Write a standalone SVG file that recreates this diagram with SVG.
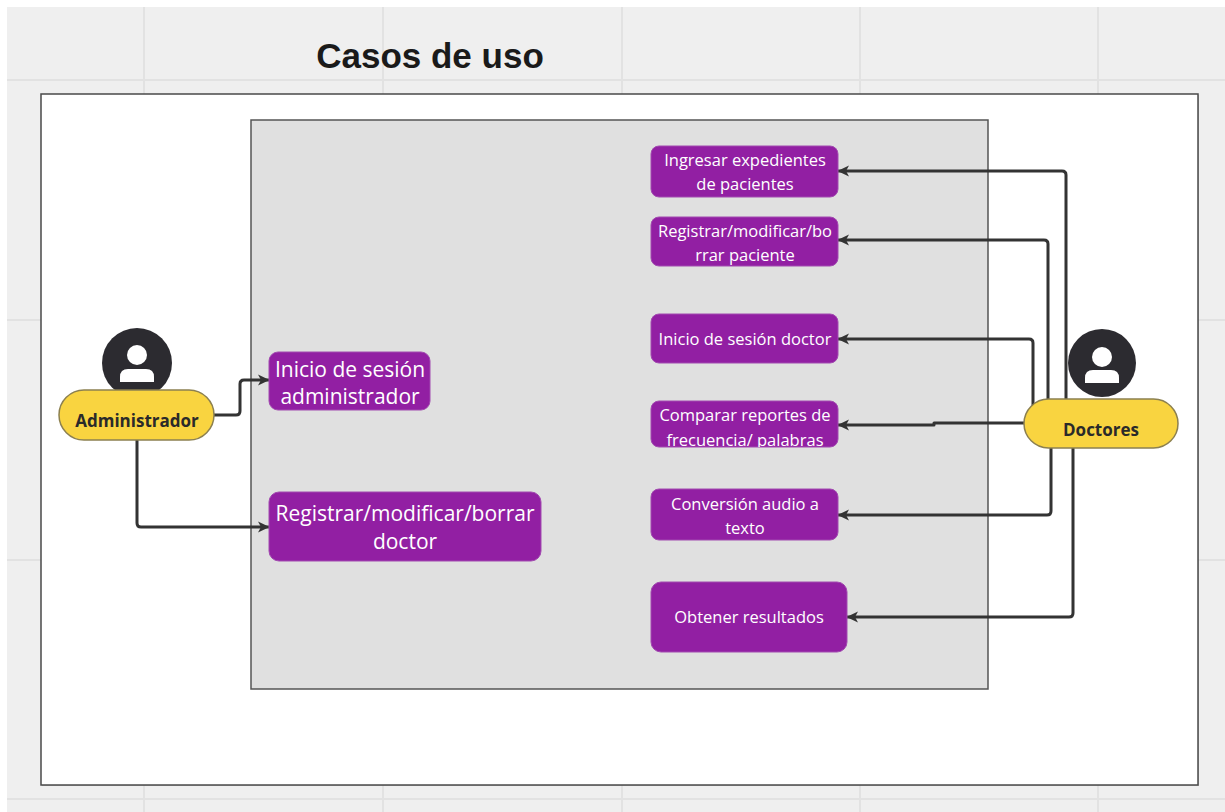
<svg xmlns="http://www.w3.org/2000/svg" width="1225" height="812" viewBox="0 0 1225 812">
<defs>
<style>
.grid{stroke:#e2e2e2;stroke-width:2;fill:none}
.uc{fill:#921fa3;stroke:#a24ab0;stroke-width:1}
.ut{font-family:"Open Sans","Noto Sans",sans-serif;fill:#ffffff;text-anchor:middle}
.s15{font-size:16.5px}
.s20{font-size:21px}
.con{fill:none;stroke:#333333;stroke-width:3;stroke-linejoin:round;marker-end:url(#arr)}
.pill{fill:#f9d440;stroke:#8c8050;stroke-width:1.5}
.pt{font-family:"Open Sans","Noto Sans",sans-serif;font-weight:700;font-size:17px;fill:#2a2a2a;text-anchor:middle}
.ic{fill:#2c2b30}
</style>
<marker id="arr" viewBox="0 0 12 12" refX="11" refY="6" markerWidth="12" markerHeight="12" markerUnits="userSpaceOnUse" orient="auto">
<path d="M0,0.5 L11.5,6 L0,11.5 L3,6 Z" fill="#333333"/>
</marker>
<clipPath id="clipComp"><rect x="651" y="401" width="187" height="46" rx="8"/></clipPath>
</defs>
<rect x="0" y="0" width="1225" height="812" fill="#ffffff"/>
<rect x="7" y="7" width="1218" height="805" fill="#efefef"/>
<g id="grid">
<path class="grid" d="M144,7V812M383,7V812M622,7V812M860,7V812M1098,7V812M7,80H1225M7,320H1225M7,560H1225M7,799H1225"/>
</g>
<text x="430" y="68" font-family="'Liberation Sans',Arial,sans-serif" font-weight="700" font-size="35" fill="#1a1a1a" text-anchor="middle">Casos de uso</text>
<g id="frame">
<rect x="42" y="95" width="1157" height="691" fill="#9a9a9a" opacity="0.5"/>
<rect x="41" y="94" width="1157" height="691" fill="#ffffff" stroke="#4a4a4a" stroke-width="1.5"/>
</g>
<g id="system">
<rect x="251" y="120" width="737" height="569" fill="#e0e0e0" stroke="#555555" stroke-width="1.5"/>
</g>
<g id="connectors">
<path class="con" d="M214,415 H236 Q240,415 240,411 V384 Q240,380 244,380 H269"/>
<path class="con" d="M137,440 V523 Q137,527 141,527 H269"/>
<path class="con" d="M1066,420 V175 Q1066,171 1062,171 H838"/>
<path class="con" d="M1048,420 V244 Q1048,240 1044,240 H838"/>
<path class="con" d="M1033,420 V343 Q1033,339 1029,339 H838"/>
<path class="con" d="M1030,423 H934 V425 H838"/>
<path class="con" d="M1051,440 V511 Q1051,515 1047,515 H838"/>
<path class="con" d="M1073,440 V613 Q1073,617 1069,617 H847"/>
</g>
<g id="administrador">
<circle class="ic" cx="137" cy="363" r="35"/>
<circle cx="137" cy="355" r="10" fill="#ffffff"/>
<path d="M120,382 V377 Q120,369 128,369 H146 Q154,369 154,377 V382 Z" fill="#ffffff"/>
<rect class="pill" x="59" y="390" width="155" height="50" rx="25"/>
<text class="pt" x="137" y="427">Administrador</text>
</g>
<g id="doctores">
<circle class="ic" cx="1102" cy="363" r="34"/>
<circle cx="1102" cy="357" r="10" fill="#ffffff"/>
<path d="M1085,383 V378 Q1085,370 1093,370 H1111 Q1119,370 1119,378 V383 Z" fill="#ffffff"/>
<rect class="pill" x="1024" y="399" width="154" height="49" rx="24.5"/>
<text class="pt" x="1101" y="436">Doctores</text>
</g>
<g id="uc-inicio-admin">
<rect class="uc" x="269" y="352" width="161" height="58" rx="9"/>
<text class="ut s20" x="350" y="377">Inicio de sesión</text>
<text class="ut s20" x="350" y="404">administrador</text>
</g>
<g id="uc-registrar-doctor">
<rect class="uc" x="269" y="492" width="272" height="69" rx="10"/>
<text class="ut s20" x="405" y="521">Registrar/modificar/borrar</text>
<text class="ut s20" x="405" y="549">doctor</text>
</g>
<g id="uc-ingresar">
<rect class="uc" x="651" y="146" width="187" height="51" rx="8"/>
<text class="ut s15" x="745" y="166">Ingresar expedientes</text>
<text class="ut s15" x="745" y="190">de pacientes</text>
</g>
<g id="uc-registrar-paciente">
<rect class="uc" x="651" y="217" width="187" height="49" rx="8"/>
<text class="ut s15" x="745" y="237">Registrar/modificar/bo</text>
<text class="ut s15" x="745" y="261">rrar paciente</text>
</g>
<g id="uc-inicio-doctor">
<rect class="uc" x="651" y="314" width="187" height="49" rx="8"/>
<text class="ut s15" x="745" y="345">Inicio de sesión doctor</text>
</g>
<g id="uc-comparar">
<rect class="uc" x="651" y="401" width="187" height="46" rx="8"/>
<g clip-path="url(#clipComp)">
<text class="ut s15" x="745" y="421">Comparar reportes de</text>
<text class="ut s15" x="745" y="446">frecuencia/ palabras</text>
</g>
</g>
<g id="uc-conversion">
<rect class="uc" x="651" y="489" width="187" height="51" rx="8"/>
<text class="ut s15" x="745" y="510">Conversión audio a</text>
<text class="ut s15" x="745" y="534">texto</text>
</g>
<g id="uc-obtener">
<rect class="uc" x="651" y="582" width="196" height="70" rx="10"/>
<text class="ut s15" x="749" y="623">Obtener resultados</text>
</g>
</svg>
